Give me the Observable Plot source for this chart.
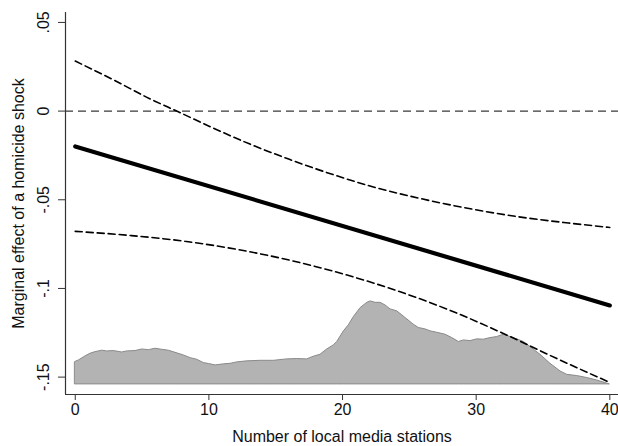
<!DOCTYPE html>
<html><head><meta charset="utf-8">
<script src="https://cdn.jsdelivr.net/npm/d3@7"></script>
<script src="https://cdn.jsdelivr.net/npm/@observablehq/plot@0.6"></script>
<style>html,body{margin:0;padding:0;background:#fff;} svg{display:block}</style>
</head><body><div id="chart"></div>
<script>
// Density of number of local media stations (top of shaded area, in y units)
const densityX = [0,0.27,0.77,1.14,1.52,2.02,2.39,2.89,3.51,3.89,4.51,5.01,5.51,6.01,6.51,7.0,7.5,8.13,8.63,9.12,9.62,10.0,10.5,11.12,11.62,12.12,12.87,13.86,14.86,15.86,16.61,17.35,17.85,18.35,18.85,19.35,19.6,20.1,20.47,20.85,21.35,21.85,22.1,22.47,22.84,23.22,23.59,24.09,24.72,25.34,25.71,26.21,26.59,27.09,27.71,28.21,28.71,29.08,29.58,30.08,30.57,31.07,31.57,32.07,32.57,33.07,33.57,34.07,34.81,35.56,36.31,36.81,37.56,38.31,39.05,40];
const densityTop = [-0.1415,-0.1406,-0.1383,-0.1368,-0.1359,-0.1351,-0.1355,-0.1353,-0.1361,-0.1355,-0.1353,-0.1344,-0.1348,-0.1340,-0.1346,-0.1351,-0.1363,-0.1378,-0.1393,-0.1402,-0.1421,-0.1426,-0.1434,-0.1428,-0.1425,-0.1417,-0.1411,-0.1408,-0.1408,-0.1400,-0.1398,-0.1400,-0.1385,-0.1374,-0.1344,-0.1321,-0.1302,-0.1242,-0.1208,-0.1161,-0.1111,-0.1081,-0.1073,-0.1081,-0.1081,-0.1096,-0.1118,-0.1129,-0.1167,-0.1205,-0.1223,-0.1231,-0.1242,-0.1250,-0.1261,-0.1280,-0.1302,-0.1293,-0.1297,-0.1287,-0.1289,-0.1280,-0.1274,-0.1261,-0.1274,-0.1287,-0.1302,-0.1331,-0.1374,-0.1425,-0.1468,-0.1487,-0.1494,-0.1505,-0.1519,-0.1541];
const densityBase = -0.1541;

// Confidence bounds
const upperX = [0,2.89,5.57,7.71,10.39,13.07,16.02,18.97,22.18,25.66,29.15,33.16,36.91,40];
const upperY = [0.0282,0.0175,0.0070,-0.0004,-0.0098,-0.0186,-0.0272,-0.0350,-0.0425,-0.0490,-0.0545,-0.0596,-0.0631,-0.0656];
const lowerX = [0,4.2,8.2,12.19,16.18,20.17,24.16,28.16,32.15,36.14,40];
const lowerY = [-0.0678,-0.0702,-0.0734,-0.0781,-0.0843,-0.0921,-0.1015,-0.1127,-0.1258,-0.1399,-0.1530];

// Marginal effect
const effectX = [0, 40];
const effectY = [-0.0199, -0.1096];

const xTicks = [0, 10, 20, 30, 40];
const yTicks = [0.05, 0, -0.05, -0.1, -0.15];
const yTickLabels = [".05", "0", "-.05", "-.1", "-.15"];
const xTitle = "Number of local media stations";
const yTitle = "Marginal effect of a homicide shock";

const xDomain = [-0.73, 40.65];
const yDomain = [-0.1598, 0.0556];

const density = densityX.map((x, i) => ({x, top: densityTop[i]}));
const upper = upperX.map((x, i) => ({x, y: upperY[i]}));
const lower = lowerX.map((x, i) => ({x, y: lowerY[i]}));
const effect = effectX.map((x, i) => ({x, y: effectY[i]}));

const chart = Plot.plot({
  width: 618, height: 446,
  marginLeft: 65, marginRight: 0, marginTop: 12, marginBottom: 52,
  style: {fontFamily: "'Liberation Sans', Arial, sans-serif", fontSize: "16px", color: "#000", background: "#fff"},
  x: {domain: xDomain},
  y: {domain: yDomain},
  marks: [
    Plot.areaY(density, {x: "x", y1: densityBase, y2: "top", fill: "#b3b3b3", stroke: "#8a8a8a", strokeWidth: 1, curve: "linear"}),
    Plot.ruleY([0], {stroke: "#3a3a3a", strokeWidth: 1.3, strokeDasharray: "8,5"}),
    Plot.line(upper, {x: "x", y: "y", stroke: "#000", strokeWidth: 1.6, strokeDasharray: "7,4", curve: "monotone-x"}),
    Plot.line(lower, {x: "x", y: "y", stroke: "#000", strokeWidth: 1.6, strokeDasharray: "7,4", curve: "monotone-x"}),
    Plot.line(effect, {x: "x", y: "y", stroke: "#000", strokeWidth: 4.2}),
    Plot.ruleX([xDomain[0]], {stroke: "#333", strokeWidth: 1.2}),
    Plot.ruleY([yDomain[0]], {stroke: "#333", strokeWidth: 1.2}),
    Plot.axisX({ticks: xTicks, tickSize: 6, tickPadding: 3, label: null, stroke: "#333", fill: "#111"}),
    Plot.axisY({ticks: yTicks, tickSize: 7, tickPadding: 10, tickRotate: -90, label: null, stroke: "#333", fill: "#111",
      tickFormat: d => yTickLabels[yTicks.indexOf(d)]}),
    Plot.text([xTitle], {text: d => d, frameAnchor: "bottom", lineAnchor: "middle", textAnchor: "middle", dy: 42, fill: "#111", fontSize: 16}),
    Plot.text([yTitle], {text: d => d, frameAnchor: "left", textAnchor: "middle", lineAnchor: "middle", dx: -47, rotate: -90, fill: "#111", fontSize: 16})
  ]
});
document.getElementById("chart").appendChild(chart);
</script>
</body></html>
